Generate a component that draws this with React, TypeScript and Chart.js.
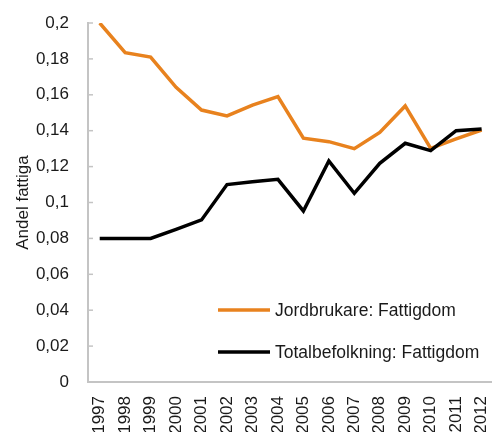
import React, { useEffect, useRef } from 'react';
import { Chart, registerables } from 'chart.js';

Chart.register(...registerables);

const years = [1997, 1998, 1999, 2000, 2001, 2002, 2003, 2004, 2005, 2006, 2007, 2008, 2009, 2010, 2011, 2012];
const jordbrukare = [0.2, 0.1835, 0.181, 0.1642, 0.1515, 0.1482, 0.1543, 0.159, 0.1358, 0.1339, 0.13, 0.139, 0.1538, 0.1302, 0.1354, 0.1404];
const totalbefolkning = [0.08, 0.08, 0.08, 0.085, 0.0903, 0.11, 0.1115, 0.1129, 0.0953, 0.1231, 0.1051, 0.1218, 0.133, 0.1289, 0.14, 0.141];
const seriesLabels = ['Jordbrukare: Fattigdom', 'Totalbefolkning: Fattigdom'];
const seriesColors = ['#E8821E', '#000000'];
const yAxisTitle = 'Andel fattiga';

const FONT = "'Liberation Sans', Arial, sans-serif";
const TEXT = '#1a1a1a';
const AXIS = '#c4c4c4';

const fmt = (v: number) => {
  const n = Number(v.toFixed(3));
  return n.toString().replace('.', ',');
};

const insideLegend = {
  id: 'insideLegend',
  afterDatasetsDraw(chart: any, _args: any, opts: any) {
    const { ctx, chartArea } = chart;
    ctx.save();
    ctx.font = `${opts.fontSize}px ${FONT}`;
    ctx.textBaseline = 'middle';
    ctx.textAlign = 'left';
    chart.data.datasets.forEach((ds: any, i: number) => {
      const y = chartArea.bottom - opts.rowOffsets[i];
      const x0 = chartArea.left + opts.leftOffset;
      ctx.strokeStyle = ds.borderColor;
      ctx.lineWidth = ds.borderWidth;
      ctx.beginPath();
      ctx.moveTo(x0, y);
      ctx.lineTo(x0 + opts.lineLength, y);
      ctx.stroke();
      ctx.fillStyle = TEXT;
      ctx.fillText(ds.label, x0 + opts.lineLength + opts.gap, y + 1);
    });
    ctx.restore();
  },
};

const innerTicks = {
  id: 'innerTicks',
  afterDraw(chart: any) {
    const { ctx, chartArea } = chart;
    const ys = chart.scales.y;
    ctx.save();
    ctx.strokeStyle = AXIS;
    ctx.lineWidth = 1.5;
    ys.ticks.forEach((t: any) => {
      const py = ys.getPixelForValue(t.value);
      ctx.beginPath();
      ctx.moveTo(chartArea.left, py);
      ctx.lineTo(chartArea.left + 5, py);
      ctx.stroke();
    });
    ctx.restore();
  },
};

export default function App() {
  const ref = useRef<HTMLCanvasElement | null>(null);

  useEffect(() => {
    if (!ref.current) return;
    const chart = new Chart(ref.current, {
      type: 'line',
      data: {
        datasets: [
          {
            label: seriesLabels[0],
            data: years.map((x, i) => ({ x, y: jordbrukare[i] })),
            borderColor: seriesColors[0],
            backgroundColor: seriesColors[0],
            borderWidth: 3.5,
            pointRadius: 0,
            tension: 0,
            order: 2,
          },
          {
            label: seriesLabels[1],
            data: years.map((x, i) => ({ x, y: totalbefolkning[i] })),
            borderColor: seriesColors[1],
            backgroundColor: seriesColors[1],
            borderWidth: 3.5,
            pointRadius: 0,
            tension: 0,
            order: 1,
          },
        ],
      },
      options: {
        responsive: false,
        animation: false,
        layout: { padding: { top: 23, right: 0, left: 0, bottom: 0 } },
        plugins: {
          legend: { display: false },
          tooltip: { enabled: false },
          insideLegend: { fontSize: 17.5, rowOffsets: [72, 30], leftOffset: 130, lineLength: 52, gap: 5 },
        } as any,
        scales: {
          x: {
            type: 'linear',
            min: 1996.54,
            max: 2012.38,
            grid: { drawOnChartArea: false, drawTicks: true, tickLength: 12, tickColor: 'rgba(0,0,0,0)' },
            border: { color: AXIS, width: 2 },
            ticks: {
              stepSize: 1,
              includeBounds: false,
              autoSkip: false,
              minRotation: 90,
              maxRotation: 90,
              padding: 2,
              color: TEXT,
              font: { family: FONT, size: 17 },
              callback: (v: any) => String(v),
            },
            afterFit: (s: any) => {
              s.height = 50;
            },
          },
          y: {
            min: 0,
            max: 0.2,
            grid: { drawOnChartArea: false, drawTicks: true, tickLength: 16, tickColor: 'rgba(0,0,0,0)' },
            border: { color: AXIS, width: 2 },
            ticks: {
              stepSize: 0.02,
              padding: 3,
              color: TEXT,
              font: { family: FONT, size: 17 },
              callback: (v: any) => fmt(Number(v)),
            },
            title: {
              display: true,
              text: yAxisTitle,
              color: TEXT,
              font: { family: FONT, size: 17 },
              padding: { top: 13, bottom: 0 },
            },
            afterFit: (s: any) => {
              s.width = 88;
            },
          },
        },
      },
      plugins: [insideLegend, innerTicks],
    });
    return () => chart.destroy();
  }, []);

  return (
    <div style={{ position: 'fixed', left: 0, top: 0, width: 504, height: 432 }}>
      <canvas ref={ref} width={504} height={432} />
    </div>
  );
}
